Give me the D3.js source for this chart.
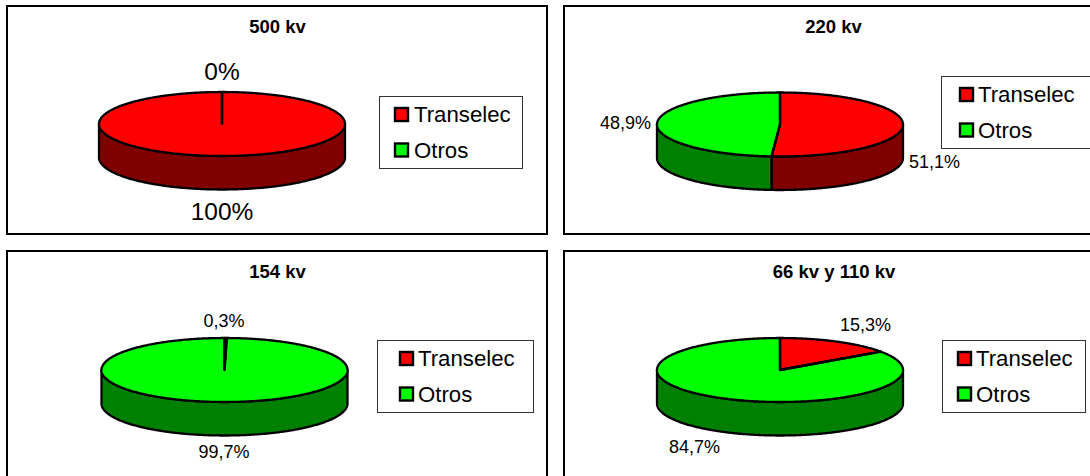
<!DOCTYPE html>
<html><head><meta charset="utf-8">
<script src="https://cdn.jsdelivr.net/npm/d3@7"></script>
<style>
html,body{margin:0;padding:0;background:#fff;overflow:hidden}
svg{display:block}
text{font-family:"Liberation Sans",Arial,sans-serif;fill:#000}
</style></head><body><div id="c"></div>
<script>
const categories = ["Transelec", "Otros"];
const titles = ["500 kv", "220 kv", "154 kv", "66 kv y 110 kv"];
const values500 = [100, 0];
const values220 = [51.1, 48.9];
const values154 = [0.3, 99.7];
const values66 = [15.3, 84.7];
const labels500 = ["100%", "0%"];
const labels220 = ["51,1%", "48,9%"];
const labels154 = ["0,3%", "99,7%"];
const labels66 = ["15,3%", "84,7%"];
const topColors = ["#ff0000", "#00ff00"];
const sideColors = ["#800000", "#008000"];

const panels = [
  {frame:[7,6,540,228],  cx:222, cy:124, vals:values500, labs:labels500, fs:24.5, pos:[[222,219.5],[222,79.5]], leg:[379,96,143,72], sw:395, tx:414, ty:108, tcx:277.5},
  {frame:[564,6,540,228],cx:780, cy:124.5, vals:values220, labs:labels220, fs:18, pos:[[934.5,168],[625.5,129]], leg:[941,76,160,72], sw:960, tx:978, ty:88, tcx:833.5},
  {frame:[7,251,540,240],cx:224.5,cy:370, vals:values154, labs:labels154, fs:18, pos:[[224,326.5],[224,457.5]], leg:[377,340,156,72], sw:400, tx:418, ty:352, tcx:277.5},
  {frame:[564,251,540,240],cx:780,cy:370, vals:values66, labs:labels66, fs:18, pos:[[865.5,331],[694.5,453]], leg:[942,340,143,72], sw:958, tx:976, ty:352, tcx:834}
];
const rx=123, ry=32, depth=33.5, lw=2.3;

const svg=d3.select("#c").append("svg").attr("width",1090).attr("height",476);
svg.append("rect").attr("width",1090).attr("height",476).attr("fill","#fff");
const pie=d3.pie().sort(null).value(d=>d);
const line=d3.line();

panels.forEach((p,i)=>{
  const g=svg.append("g");
  g.append("rect").attr("x",p.frame[0]).attr("y",p.frame[1]).attr("width",p.frame[2]).attr("height",p.frame[3])
    .attr("fill","#fff").attr("stroke","#000").attr("stroke-width",2);
  g.append("text").attr("x",p.tcx).attr("y",p.frame[1]+27).attr("text-anchor","middle")
    .attr("font-size",18.5).attr("font-weight","bold").text(titles[i]);

  const pt=(a,z=0)=>[p.cx+rx*Math.sin(a), p.cy-ry*Math.cos(a)+z];
  const samples=(a0,a1,z=0)=>{
    const n=Math.max(2,Math.ceil((a1-a0)/0.01));
    return d3.range(n+1).map(k=>pt(a0+(a1-a0)*k/n,z));
  };
  const arcs=pie(p.vals);
  // walls (front half only)
  arcs.forEach((a,j)=>{
    const s=Math.max(a.startAngle,Math.PI/2), e=Math.min(a.endAngle,Math.PI*1.5);
    if(e<=s) return;
    const poly=samples(s,e).concat(samples(s,e,depth).reverse());
    g.append("path").attr("d",line(poly)+"Z").attr("fill",sideColors[j])
      .attr("stroke","#000").attr("stroke-width",lw).attr("stroke-linejoin","round");
  });
  // top face
  arcs.forEach((a,j)=>{
    if(a.endAngle<=a.startAngle) return;
    const poly=[[p.cx,p.cy]].concat(samples(a.startAngle,a.endAngle));
    g.append("path").attr("d",line(poly)+"Z").attr("fill",topColors[j])
      .attr("stroke","#000").attr("stroke-width",lw).attr("stroke-linejoin","round");
  });
  // slice boundaries (also shows the empty slice)
  arcs.forEach(a=>{
    g.append("path").attr("d",line([[p.cx,p.cy],pt(a.startAngle)])).attr("fill","none")
      .attr("stroke","#000").attr("stroke-width",lw);
  });
  // data labels
  p.labs.forEach((t,j)=>{
    g.append("text").attr("x",p.pos[j][0]).attr("y",p.pos[j][1]).attr("text-anchor","middle")
      .attr("font-size",p.fs).text(t);
  });
  // legend
  g.append("rect").attr("x",p.leg[0]+.5).attr("y",p.leg[1]+.5).attr("width",p.leg[2]).attr("height",p.leg[3])
    .attr("fill","#fff").attr("stroke","#333").attr("stroke-width",1);
  categories.forEach((c,j)=>{
    const y=p.ty+j*35.5;
    g.append("rect").attr("x",p.sw).attr("y",y).attr("width",13).attr("height",13)
      .attr("fill",topColors[j]).attr("stroke","#000").attr("stroke-width",2.4);
    g.append("text").attr("x",p.tx).attr("y",y+14).attr("font-size",22.2).text(c);
  });
});
</script></body></html>
